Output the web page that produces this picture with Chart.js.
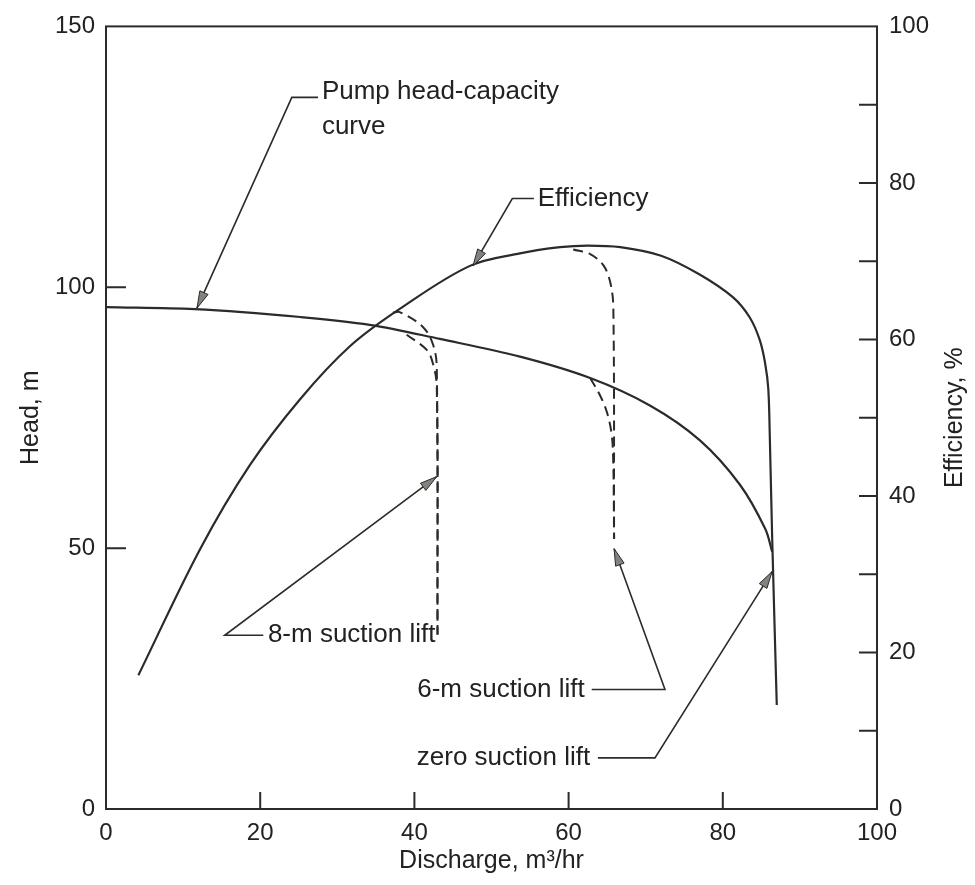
<!DOCTYPE html>
<html>
<head>
<meta charset="utf-8">
<script src="https://cdn.jsdelivr.net/npm/chart.js@4.4.0/dist/chart.umd.min.js"></script>
<style>
  html, body { margin: 0; background: #fff; }
  #wrap { width: 975px; height: 885px; }
</style>
</head>
<body>
<div id="wrap"><canvas id="pumpChart" width="975" height="885"></canvas></div>
<script>
// tick values
const dischargeTicks = [0, 20, 40, 60, 80, 100];
const headTicks = [0, 50, 100, 150];
const effTicks = [0, 20, 40, 60, 80, 100];

// pump head-capacity curve (m3/hr, m)
const headQ = [0, 11.5, 25.2, 34.2, 43.3, 53.7, 62.8, 70.6, 77.0, 82.2, 85.5, 86.4];
const headM = [96.2, 95.8, 94.3, 92.8, 90.1, 86.7, 82.6, 77.3, 70.7, 62.2, 53.7, 49.3];

// efficiency curve (m3/hr, %)
const effQ = [4.2, 12.2, 18.7, 25.2, 31.6, 38.1, 47.2, 53.7, 58.9, 62.5, 66.7, 72.0, 77.0, 81.3, 83.5, 84.8, 85.5, 85.9, 86.1, 86.4, 87.0];
const effPct = [17.1, 33.2, 44.0, 52.4, 59.1, 63.9, 69.4, 71.0, 71.8, 72.0, 71.8, 70.7, 68.3, 65.4, 62.8, 59.9, 56.9, 53.7, 47.4, 34.8, 13.3];

// 8-m suction lift (dashed)
const lift8HeadQ = [39.0, 41.6, 42.4, 42.9, 43.0];
const lift8HeadM = [90.9, 88.0, 85.4, 81.0, 33.4];
const lift8EffQ = [37.2, 38.1, 41.1, 42.4, 42.9, 43.0];
const lift8EffPct = [63.4, 63.5, 61.6, 59.4, 56.5, 22.3];

// 6-m suction lift (dashed)
const lift6HeadQ = [62.8, 64.1, 65.0, 65.6, 65.8, 65.9];
const lift6HeadM = [82.6, 79.2, 75.9, 71.6, 65.9, 51.8];
const lift6EffQ = [60.6, 62.8, 64.5, 65.4, 65.8, 65.9];
const lift6EffPct = [71.5, 70.9, 69.5, 67.3, 64.1, 34.5];

// callouts: text, text anchor (Q, head), elbow, end of short bar, arrow tip (all in Q / head units)
const callouts = [
  { text: ['Pump head-capacity', 'curve'], at: [28.0, 137.4], align: 'left', elbow: [24.1, 136.4], bar: [27.5, 136.4], tip: [11.8, 96.0] },
  { text: ['Efficiency'], at: [56.0, 117.0], align: 'left', elbow: [52.7, 117.0], bar: [55.5, 117.0], tip: [47.6, 104.1] },
  { text: ['8-m suction lift'], at: [21.0, 33.3], align: 'left', elbow: [15.4, 33.3], bar: [20.4, 33.3], tip: [42.9, 63.7] },
  { text: ['6-m suction lift'], at: [62.1, 22.9], align: 'right', elbow: [72.5, 22.9], bar: [63.0, 22.9], tip: [65.9, 49.9] },
  { text: ['zero suction lift'], at: [62.8, 9.8], align: 'right', elbow: [71.2, 9.8], bar: [63.8, 9.8], tip: [86.4, 45.5] }
];

const ink = '#2b2b2b';
const fontFamily = "'Liberation Sans', Arial, Helvetica, sans-serif";

function pts(xs, ys) {
  return xs.map((x, i) => ({ x: x, y: ys[i] }));
}

function curve(xs, ys, axis, dashed) {
  return {
    data: pts(xs, ys),
    yAxisID: axis,
    borderColor: ink,
    borderWidth: dashed ? 2 : 2.2,
    borderDash: dashed ? [10, 6] : [],
    pointRadius: 0,
    tension: 0.35,
    fill: false
  };
}

// frame, inner ticks, callouts and right title
const decorations = {
  id: 'decorations',
  afterDatasetsDraw(chart) {
    const { ctx, chartArea: a, scales } = chart;
    const sx = scales.x, sy = scales.y, sy2 = scales.y2;
    ctx.save();
    ctx.strokeStyle = ink;
    ctx.lineWidth = 2;
    ctx.strokeRect(a.left, a.top, a.right - a.left, a.bottom - a.top);

    ctx.beginPath();
    [50, 100].forEach(v => {
      const y = sy.getPixelForValue(v);
      ctx.moveTo(a.left, y); ctx.lineTo(a.left + 20, y);
    });
    for (let v = 10; v < 100; v += 10) {
      const y = sy2.getPixelForValue(v);
      ctx.moveTo(a.right, y); ctx.lineTo(a.right - 18, y);
    }
    dischargeTicks.slice(1, -1).forEach(v => {
      const x = sx.getPixelForValue(v);
      ctx.moveTo(x, a.bottom); ctx.lineTo(x, a.bottom - 17);
    });
    ctx.stroke();

    ctx.font = '26px ' + fontFamily;
    ctx.fillStyle = '#222';
    ctx.textBaseline = 'middle';
    callouts.forEach(c => {
      const P = p => [sx.getPixelForValue(p[0]), sy.getPixelForValue(p[1])];
      const e = P(c.elbow), b = P(c.bar), t = P(c.tip), at = P(c.at);
      ctx.lineWidth = 1.6;
      ctx.beginPath();
      ctx.moveTo(b[0], b[1]); ctx.lineTo(e[0], e[1]); ctx.lineTo(t[0], t[1]);
      ctx.stroke();
      // arrow head
      const ang = Math.atan2(t[1] - e[1], t[0] - e[0]);
      const len = 17, hw = 4.5;
      ctx.beginPath();
      ctx.moveTo(t[0], t[1]);
      ctx.lineTo(t[0] - len * Math.cos(ang) + hw * Math.sin(ang), t[1] - len * Math.sin(ang) - hw * Math.cos(ang));
      ctx.lineTo(t[0] - len * Math.cos(ang) - hw * Math.sin(ang), t[1] - len * Math.sin(ang) + hw * Math.cos(ang));
      ctx.closePath();
      ctx.fillStyle = '#85817c';
      ctx.fill();
      ctx.lineWidth = 1;
      ctx.stroke();
      ctx.fillStyle = '#222';
      ctx.textAlign = c.align;
      c.text.forEach((line, i) => ctx.fillText(line, at[0], at[1] + i * 35));
    });

    ctx.translate(955, (a.top + a.bottom) / 2);
    ctx.rotate(-Math.PI / 2);
    ctx.textAlign = 'center';
    ctx.font = '25px ' + fontFamily;
    ctx.fillText('Efficiency, %', 0, 0);
    ctx.restore();
  }
};

const tickFont = { family: fontFamily, size: 24 };

const pumpChart = new Chart(document.getElementById('pumpChart'), {
  type: 'line',
  data: {
    datasets: [
      curve(headQ, headM, 'y', false),
      curve(effQ, effPct, 'y2', false),
      curve(lift8HeadQ, lift8HeadM, 'y', true),
      curve(lift8EffQ, lift8EffPct, 'y2', true),
      curve(lift6HeadQ, lift6HeadM, 'y', true),
      curve(lift6EffQ, lift6EffPct, 'y2', true)
    ]
  },
  options: {
    responsive: false,
    animation: false,
    devicePixelRatio: 1,
    layout: { padding: { top: 15 } },
    plugins: { legend: { display: false }, tooltip: { enabled: false } },
    scales: {
      x: {
        type: 'linear', min: 0, max: 100,
        afterFit: s => { s.height = 76; },
        afterBuildTicks: s => { s.ticks = dischargeTicks.map(v => ({ value: v })); },
        grid: { display: false, drawTicks: false },
        border: { display: false },
        ticks: { font: tickFont, color: '#222', padding: 10, maxRotation: 0 },
        title: { display: true, text: 'Discharge, m³/hr', font: { family: fontFamily, size: 25 }, color: '#222', padding: { bottom: 9 } }
      },
      y: {
        type: 'linear', position: 'left', min: 0, max: 150,
        afterFit: s => { s.width = 106; },
        afterBuildTicks: s => { s.ticks = headTicks.map(v => ({ value: v })); },
        grid: { display: false, drawTicks: false },
        border: { display: false },
        ticks: { font: tickFont, color: '#222', padding: 11 },
        title: { display: true, text: 'Head, m', font: { family: fontFamily, size: 25 }, color: '#222', padding: { top: 16 } }
      },
      y2: {
        type: 'linear', position: 'right', min: 0, max: 100,
        afterFit: s => { s.width = 98; },
        afterBuildTicks: s => { s.ticks = effTicks.map(v => ({ value: v })); },
        grid: { display: false, drawTicks: false },
        border: { display: false },
        ticks: { font: tickFont, color: '#222', padding: 12 }
      }
    }
  },
  plugins: [decorations]
});
</script>
</body>
</html>
